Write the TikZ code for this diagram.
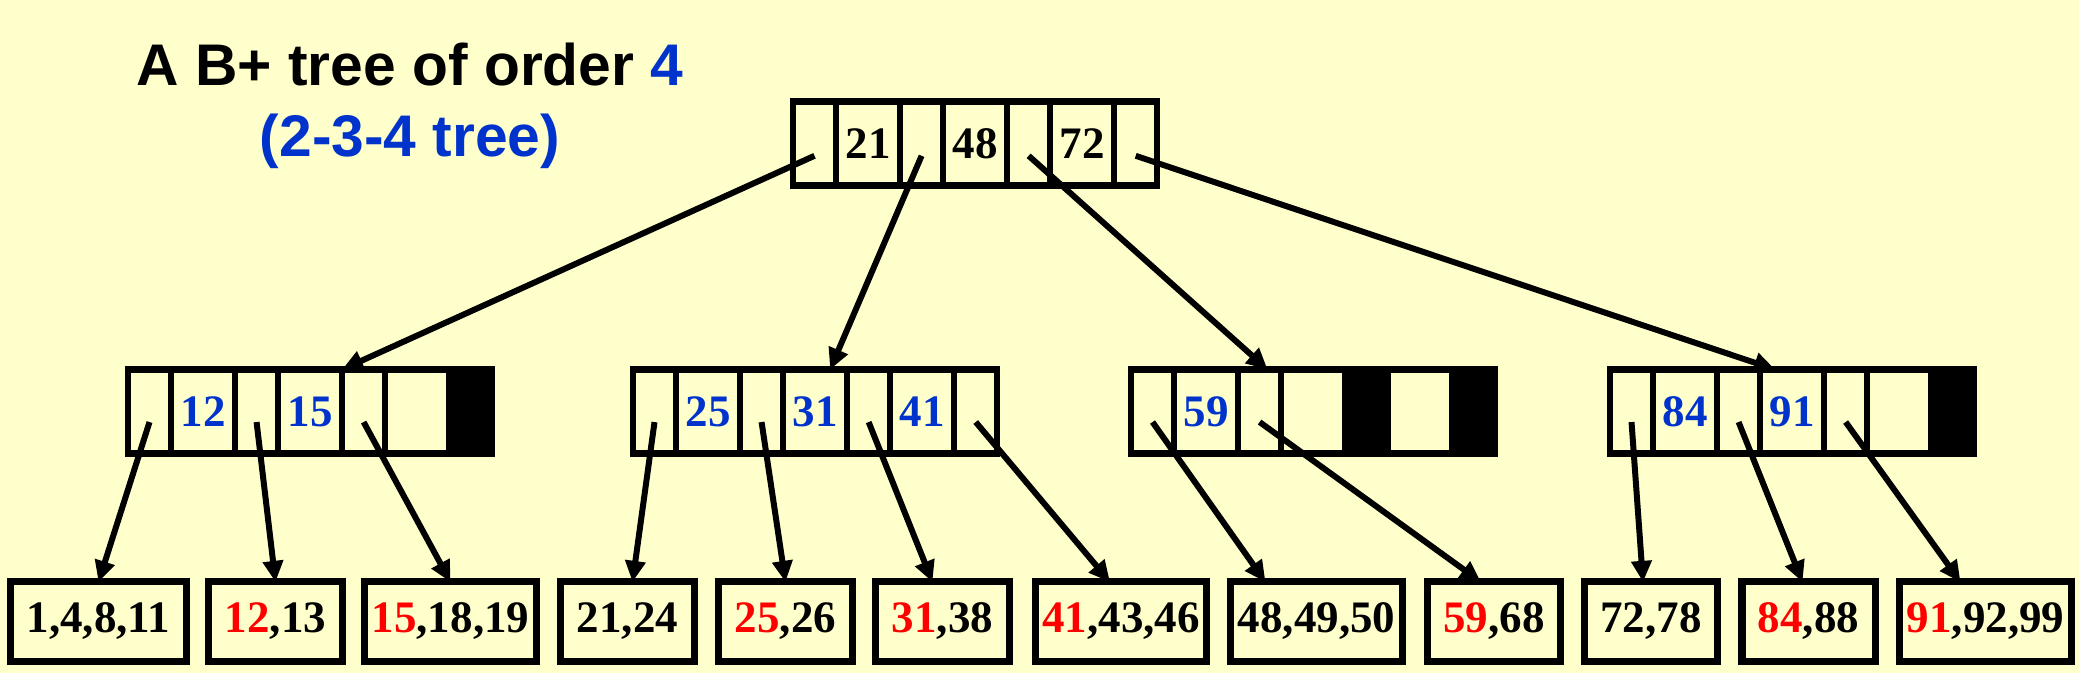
\documentclass[tikz,border=0pt]{standalone}
\usepackage{fontspec}
\setmainfont{Liberation Serif}
\newfontfamily\titlefont{Liberation Sans}
\usetikzlibrary{arrows.meta, positioning}
\definecolor{bgyellow}{RGB}{255,255,204}
\definecolor{keyblue}{RGB}{0,51,204}
\definecolor{keyred}{RGB}{255,0,0}

% one B+ tree node: name, position, three keys, styles of the last two pointers
\newcommand{\bnode}[7]{%
  \node[ptr, anchor=west] (#1p0) at (#2) {};
  \node[keyc, right=0pt of #1p0] (#1k1) {#3};
  \node[ptr, right=0pt of #1k1] (#1p1) {};
  \node[keyc, right=0pt of #1p1] (#1k2) {#4};
  \node[#6, right=0pt of #1k2] (#1p2) {};
  \node[keyc, right=0pt of #1p2] (#1k3) {#5};
  \node[#7, right=0pt of #1k3] (#1p3) {};
}

\begin{document}
\begin{tikzpicture}[x=0.01cm, y=-0.01cm,
    ptr/.style={draw, line width=1.75pt, minimum width=0.43cm, minimum height=0.84cm, inner sep=0pt, outer sep=0pt},
    keyc/.style={ptr, minimum width=0.64cm, font=\fontsize{12.8}{15}\selectfont\bfseries},
    nil/.style={ptr, fill=black},
    leaf/.style={draw, line width=2pt, minimum width=1.33cm, minimum height=0.79cm, inner sep=0pt, outer sep=0pt, font=\fontsize{12.8}{15}\selectfont\bfseries},
    wide/.style={minimum width=1.71cm},
    arr/.style={-{Triangle[length=6pt, width=5.6pt]}, line width=1.7pt}]
    \fill[bgyellow] (0,0) rectangle (2079,673);
    \useasboundingbox (0,0) rectangle (2079,673);

    % Title
    \node[anchor=base, font=\titlefont\bfseries\fontsize{16.7}{20}\selectfont] (title) at (410,86) {A B+ tree of order \textcolor{keyblue}{4}};
    \node[anchor=base, font=\titlefont\bfseries\fontsize{16.7}{20}\selectfont, text=keyblue] (subtitle) at (410,157) {(2-3-4 tree)};

    % Root
    \bnode{r}{793,143.5}{21}{48}{72}{ptr}{ptr}

    % Internal nodes
    \begin{scope}[keyc/.append style={text=keyblue}]
    \bnode{n1}{128,411.5}{12}{15}{}{ptr}{nil}
    \bnode{n2}{633,411.5}{25}{31}{41}{ptr}{ptr}
    \bnode{n3}{1131,411.5}{59}{}{}{nil}{nil}
    \bnode{n4}{1610,411.5}{84}{91}{}{ptr}{nil}
    \end{scope}

    % Leaves
    \node[leaf, minimum width=1.75cm] (l1) at (98.5,621.5) {1,4,8,11};
    \node[leaf] (l2) at (275.5,621.5) {\textcolor{keyred}{12},13};
    \node[leaf, wide] (l3) at (450.5,621.5) {\textcolor{keyred}{15},18,19};
    \node[leaf] (l4) at (627.5,621.5) {21,24};
    \node[leaf] (l5) at (785.5,621.5) {\textcolor{keyred}{25},26};
    \node[leaf] (l6) at (942.5,621.5) {\textcolor{keyred}{31},38};
    \node[leaf, wide] (l7) at (1121,621.5) {\textcolor{keyred}{41},43,46};
    \node[leaf, wide] (l8) at (1316.5,621.5) {48,49,50};
    \node[leaf] (l9) at (1494,621.5) {\textcolor{keyred}{59},68};
    \node[leaf] (l10) at (1651,621.5) {72,78};
    \node[leaf] (l11) at (1808.5,621.5) {\textcolor{keyred}{84},88};
    \node[leaf, wide] (l12) at (1985.5,621.5) {\textcolor{keyred}{91},92,99};

    % Root pointers
    \draw[arr] ([yshift=-3.5pt]rp0.center) -- (n1k2.north east);
    \draw[arr] ([yshift=-3.5pt]rp1.center) -- ([xshift=0.15cm]n2k2.north);
    \draw[arr] ([yshift=-3.5pt]rp2.center) -- ([xshift=0.08cm]n3p1.north);
    \draw[arr] ([yshift=-3.5pt]rp3.center) -- ([xshift=-0.17cm]n4k2.north);

    % Pointers to leaves
    \draw[arr] ([yshift=-3pt]n1p0.center) -- (l1.north);
    \draw[arr] ([yshift=-3pt]n1p1.center) -- (l2.north);
    \draw[arr] ([yshift=-3pt]n1p2.center) -- (l3.north);
    \draw[arr] ([yshift=-3pt]n2p0.center) -- ([xshift=0.05cm]l4.north);
    \draw[arr] ([yshift=-3pt]n2p1.center) -- (l5.north);
    \draw[arr] ([yshift=-3pt]n2p2.center) -- ([xshift=-0.1cm]l6.north);
    \draw[arr] ([yshift=-3pt]n2p3.center) -- ([xshift=-0.11cm]l7.north);
    \draw[arr] ([yshift=-3pt]n3p0.center) -- ([xshift=-0.51cm]l8.north);
    \draw[arr] ([yshift=-3pt]n3p1.center) -- ([xshift=-0.13cm]l9.north);
    \draw[arr] ([yshift=-3pt]n4p0.center) -- ([xshift=-0.08cm]l10.north);
    \draw[arr] ([yshift=-3pt]n4p1.center) -- ([xshift=-0.06cm]l11.north);
    \draw[arr] ([yshift=-3pt]n4p2.center) -- ([xshift=-0.25cm]l12.north);
\end{tikzpicture}
\end{document}
